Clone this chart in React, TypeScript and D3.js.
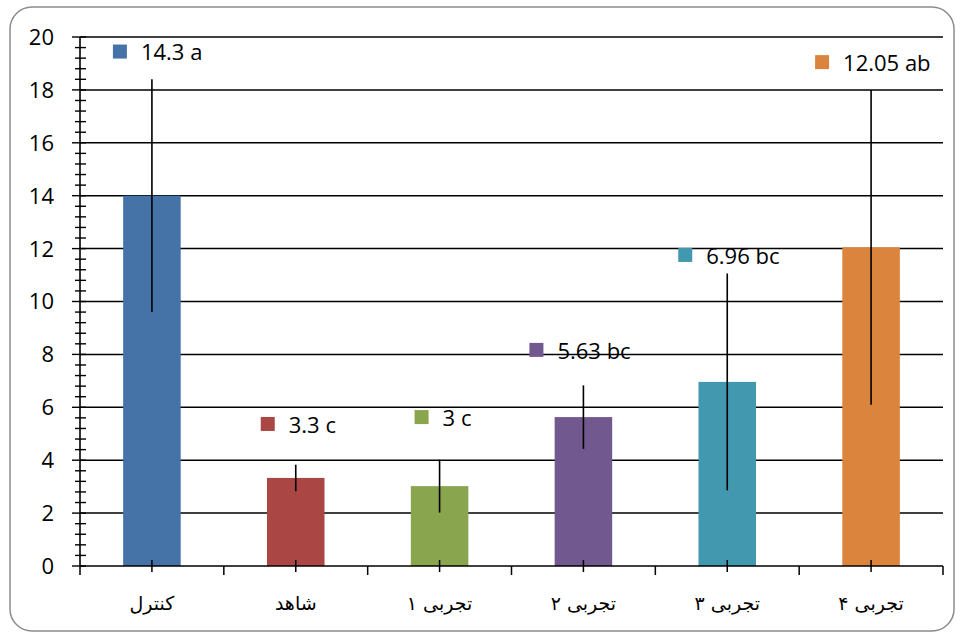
import React, { useRef, useEffect } from 'react';
import * as d3 from 'd3';

// values
const categories = ['کنترل', 'شاهد', 'تجربی ۱', 'تجربی ۲', 'تجربی ۳', 'تجربی ۴'];
const means = [14.0, 3.33, 3.02, 5.63, 6.96, 12.05];
const errors = [4.4, 0.5, 1.0, 1.2, 4.1, 5.95];
const labels = ['14.3 a', '3.3 c', '3 c', '5.63 bc', '6.96 bc', '12.05 ab'];
const colors = ['#4572A7', '#AA4643', '#89A54E', '#71588F', '#4198AF', '#DB843D'];
const yTicks = [0, 2, 4, 6, 8, 10, 12, 14, 16, 18, 20];

// where the data labels were dragged to (value units / px offset from band centre)
const labelY = [19.45, 5.37, 5.63, 8.17, 11.76, 19.05];
const labelDx = [-39, -35, -25, -54, -49, -56];

export default function App() {
    const svgRef = useRef<SVGSVGElement>(null);

    useEffect(() => {
        if (!svgRef.current) return;
        const width = 960;
        const height = 635;
        const margin = { top: 37, right: 17, bottom: 69, left: 80 };

        const svg = d3.select(svgRef.current);
        svg.selectAll('*').remove();

        const font = "'Open Sans', 'Noto Sans', sans-serif";

        // frame
        svg.append('rect')
            .attr('x', 10).attr('y', 7)
            .attr('width', 944).attr('height', 624)
            .attr('rx', 22).attr('ry', 22)
            .attr('fill', 'white')
            .attr('stroke', '#8c8c8c')
            .attr('stroke-width', 1.5);

        const x = d3.scaleBand<string>()
            .domain(categories)
            .range([margin.left, width - margin.right])
            .paddingInner(0.6)
            .paddingOuter(0.3);

        const y = d3.scaleLinear()
            .domain([0, 20])
            .range([height - margin.bottom, margin.top]);

        const step = x.step();
        const x0 = margin.left;
        const x1 = width - margin.right;

        // gridlines
        svg.append('g')
            .selectAll('line')
            .data(yTicks.filter(t => t > 0))
            .join('line')
            .attr('x1', x0).attr('x2', x1)
            .attr('y1', d => y(d)).attr('y2', d => y(d))
            .attr('stroke', '#000')
            .attr('stroke-width', 1.5);

        // bars
        svg.append('g')
            .selectAll('rect')
            .data(means)
            .join('rect')
            .attr('x', (_, i) => x(categories[i])!)
            .attr('width', x.bandwidth())
            .attr('y', d => y(d))
            .attr('height', d => y(0) - y(d))
            .attr('fill', (_, i) => colors[i]);

        // error bars
        svg.append('g')
            .selectAll('line')
            .data(means)
            .join('line')
            .attr('x1', (_, i) => x(categories[i])! + x.bandwidth() / 2)
            .attr('x2', (_, i) => x(categories[i])! + x.bandwidth() / 2)
            .attr('y1', (d, i) => y(d + errors[i]))
            .attr('y2', (d, i) => y(d - errors[i]))
            .attr('stroke', '#000')
            .attr('stroke-width', 1.6);

        // y axis
        const yAxis = svg.append('g');
        yAxis.append('line')
            .attr('x1', x0).attr('x2', x0)
            .attr('y1', y(0)).attr('y2', y(20))
            .attr('stroke', '#000').attr('stroke-width', 1.6);
        const minor = d3.range(0, 100).map(i => i * 0.4).filter(v => v <= 20 && Math.abs(v / 2 - Math.round(v / 2)) > 1e-6);
        yAxis.selectAll('line.minor')
            .data(minor)
            .join('line')
            .attr('class', 'minor')
            .attr('x1', x0 - 5).attr('x2', x0 + 6)
            .attr('y1', d => y(d)).attr('y2', d => y(d))
            .attr('stroke', '#000').attr('stroke-width', 1.4);
        yAxis.selectAll('line.major')
            .data(yTicks)
            .join('line')
            .attr('class', 'major')
            .attr('x1', x0 - 8).attr('x2', x0 + 6)
            .attr('y1', d => y(d)).attr('y2', d => y(d))
            .attr('stroke', '#000').attr('stroke-width', 1.4);
        yAxis.selectAll('text')
            .data(yTicks)
            .join('text')
            .attr('x', x0 - 26)
            .attr('y', d => y(d))
            .attr('dy', '0.36em')
            .attr('text-anchor', 'end')
            .attr('font-family', font)
            .attr('font-size', 22)
            .attr('fill', '#000')
            .text(d => d);

        // x axis
        const xAxis = svg.append('g');
        xAxis.append('line')
            .attr('x1', x0).attr('x2', x1)
            .attr('y1', y(0)).attr('y2', y(0))
            .attr('stroke', '#000').attr('stroke-width', 1.6);
        xAxis.selectAll('line.bound')
            .data(d3.range(categories.length + 1))
            .join('line')
            .attr('class', 'bound')
            .attr('x1', i => x0 + i * step).attr('x2', i => x0 + i * step)
            .attr('y1', y(0)).attr('y2', y(0) + 9)
            .attr('stroke', '#000').attr('stroke-width', 1.5);
        xAxis.selectAll('line.mid')
            .data(categories)
            .join('line')
            .attr('class', 'mid')
            .attr('x1', d => x(d)! + x.bandwidth() / 2).attr('x2', d => x(d)! + x.bandwidth() / 2)
            .attr('y1', y(0) - 6).attr('y2', y(0) + 6)
            .attr('stroke', '#000').attr('stroke-width', 1.5);
        xAxis.selectAll('text')
            .data(categories)
            .join('text')
            .attr('x', d => x(d)! + x.bandwidth() / 2)
            .attr('y', y(0) + 44)
            .attr('text-anchor', 'middle')
            .attr('direction', 'rtl')
            .attr('font-family', "'DejaVu Sans', 'Noto Sans', sans-serif")
            .attr('font-size', 19)
            .attr('fill', '#000')
            .text(d => d);

        // data labels with legend keys
        const lab = svg.append('g')
            .selectAll('g')
            .data(labels)
            .join('g')
            .attr('transform', (_, i) => `translate(${x(categories[i])! + x.bandwidth() / 2 + labelDx[i]},${y(labelY[i])})`);
        lab.append('rect')
            .attr('x', 0).attr('y', -7)
            .attr('width', 14).attr('height', 14)
            .attr('fill', (_, i) => colors[i]);
        lab.append('text')
            .attr('x', 28)
            .attr('y', 1)
            .attr('dy', '0.36em')
            .attr('font-family', font)
            .attr('font-size', 22)
            .attr('fill', '#000')
            .text(d => d);
    }, []);

    return (
        <svg
            ref={svgRef}
            width={960}
            height={635}
            style={{ position: 'absolute', left: 0, top: 0, background: 'white' }}
        />
    );
}
